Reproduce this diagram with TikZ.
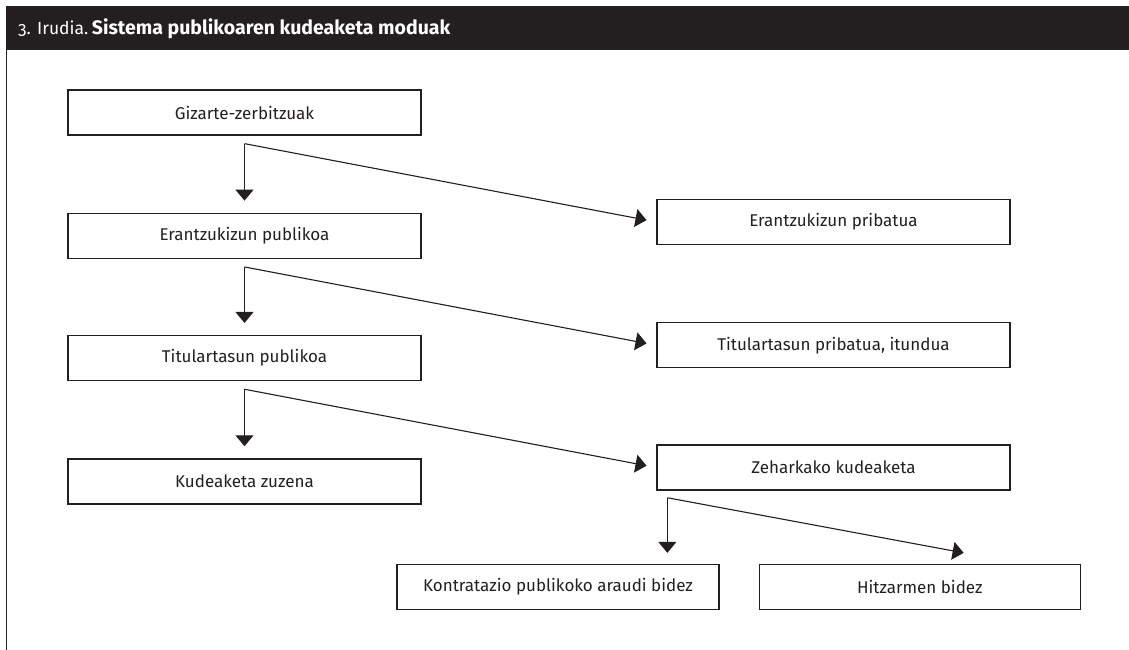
\documentclass[tikz,border=0pt]{standalone}
\usepackage{fontspec}
\setmainfont{Fira Sans}[Numbers=OldStyle]
\usetikzlibrary{arrows.meta, positioning, calc}
\definecolor{ink}{HTML}{231F20}

\begin{document}
\begin{tikzpicture}[
    x=1pt, y=-1pt,
    box/.style={rectangle, draw=ink, line width=1.3pt, minimum width=353pt, minimum height=45pt, inner sep=0pt, text=ink, font=\fontsize{17}{19}\selectfont},
    arrow/.style={-{Triangle[width=18pt,length=11pt]}, draw=ink, line width=1.1pt}
]
\useasboundingbox (0,0) rectangle (1129,650);

% Title bar
\fill[ink] (6,6) rectangle (1129,50);
\node[anchor=west, text=white, inner sep=0pt] (title) at (18,29) {{\fontsize{17.5}{20}\selectfont 3. Irudia.} {\fontsize{19.5}{22}\selectfont\bfseries Sistema publikoaren kudeaketa moduak}};
\draw[ink, line width=1.3pt] (6.5,50) -- (6.5,650);

% Left column
\node[box] (gizarte) at (244.5,112.5) {Gizarte-zerbitzuak};
\node[box, below=77pt of gizarte] (erpub) {Erantzukizun publikoa};
\node[box, below=76pt of erpub] (titpub) {Titulartasun publikoa};
\node[box, below=77pt of titpub] (kudzuz) {Kudeaketa zuzena};

% Right column
\node[box] (erpriv) at (833.5,222) {Erantzukizun pribatua};
\node[box, below=77pt of erpriv] (titpriv) {Titulartasun pribatua, itundua};
\node[box, below=76pt of titpriv] (zehark) {Zeharkako kudeaketa};

% Bottom row
\node[box, minimum width=322pt] (kontra) at (558,587) {Kontratazio publikoko araudi bidez};
\node[box, minimum width=321pt, right=39pt of kontra] (hitz) {Hitzarmen bidez};

% Branch points
\coordinate (b1) at ($(gizarte.south)+(0,8)$);
\coordinate (b2) at ($(erpub.south)+(0,8)$);
\coordinate (b3) at ($(titpub.south)+(0,8)$);
\coordinate (b4) at ($(zehark.south west)+(11,7)$);
\coordinate (t4) at ($(hitz.north west)+(205,-11)$);

% Arrows
\draw[arrow, shorten >=12pt] (b1) -- (b1 |- erpub.north);
\draw[arrow, shorten >=10pt] (b1) -- (erpriv.west);
\draw[arrow, shorten >=12pt] (b2) -- (b2 |- titpub.north);
\draw[arrow, shorten >=10pt] (b2) -- (titpriv.west);
\draw[arrow, shorten >=12pt] (b3) -- (b3 |- kudzuz.north);
\draw[arrow, shorten >=10pt] (b3) -- (zehark.west);
\draw[arrow, shorten >=11pt] (b4) -- (b4 |- kontra.north);
\draw[arrow] (b4) -- (t4);

\end{tikzpicture}
\end{document}
